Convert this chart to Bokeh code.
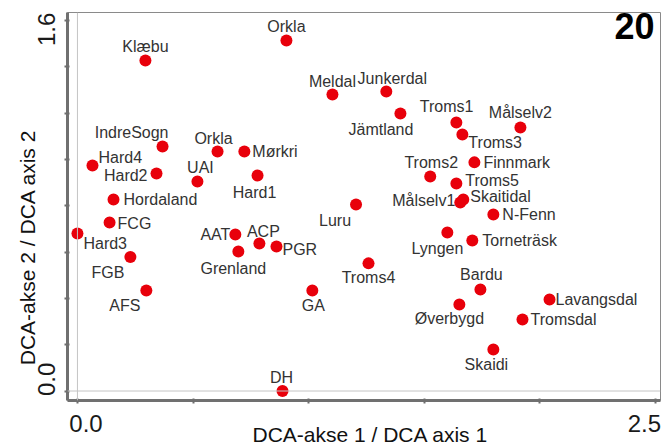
import math
from bokeh.plotting import figure
from bokeh.models import Range1d, FixedTicker, Span, Label, ColumnDataSource, LinearAxis
from bokeh.core.properties import value
from bokeh.embed import file_html
from bokeh.resources import INLINE

# ---------------- data ----------------
sites = ["Orkla", "Klæbu", "Meldal", "Junkerdal", "Jämtland", "Troms1", "Troms3",
         "Målselv2", "Finnmark", "Troms2", "Troms5", "Skaitidal", "Målselv1", "Luru",
         "N-Fenn", "Lyngen", "Torneträsk", "Troms4", "Bardu", "Lavangsdal", "Øverbygd",
         "Tromsdal", "Skaidi", "IndreSogn", "Orkla", "Mørkri", "Hard4", "Hard2", "UAI",
         "Hard1", "Hordaland", "FCG", "Hard3", "AAT", "ACP", "PGR", "Grenland", "FGB",
         "AFS", "GA", "DH"]
dca_axis1 = [0.904, 0.294, 1.103, 1.336, 1.397, 1.639, 1.665,
             1.916, 1.717, 1.526, 1.639, 1.669, 1.656, 1.205,
             1.799, 1.600, 1.708, 1.259, 1.743, 2.042, 1.652,
             1.925, 1.799, 0.368, 0.606, 0.722, 0.065, 0.342, 0.519,
             0.779, 0.156, 0.139, 0.000, 0.683, 0.787, 0.861, 0.696, 0.229,
             0.298, 1.016, 0.887]
dca_axis2 = [1.513, 1.427, 1.280, 1.293, 1.198, 1.159, 1.107,
             1.138, 0.987, 0.926, 0.896, 0.827, 0.814, 0.805,
             0.762, 0.684, 0.650, 0.551, 0.438, 0.395, 0.373,
             0.309, 0.179, 1.056, 1.034, 1.034, 0.974, 0.939, 0.904,
             0.930, 0.827, 0.727, 0.680, 0.676, 0.637, 0.624, 0.602, 0.578,
             0.434, 0.434, 0.0]

x_tick_values = [0.0, 2.5]
x_tick_labels = ["0.0", "2.5"]
y_tick_values = [0.0, 1.6]
y_tick_labels = ["0.0", "1.6"]
x_minor_ticks = [0.0, 0.5, 1.0, 1.5, 2.0, 2.5]
y_minor_ticks = [0.0, 0.2, 0.4, 0.6, 0.8, 1.0, 1.2, 1.4, 1.6]
x_title = "DCA-akse 1 / DCA axis 1"
y_title = "DCA-akse 2 / DCA axis 2"
panel_number = "20"

# ---------------- label placement (style, pixels) ----------------
label_align = ["center", "center", "center", "center", "right", "right", "left",
               "center", "left", "center", "left", "left", "right", "right",
               "left", "right", "left", "center", "center", "left", "center",
               "left", "center", "right", "center", "left", "left", "right", "center",
               "center", "left", "left", "left", "right", "center", "left", "center", "right",
               "right", "center", "center"]
label_dx = [0, 0, 0, 6, 13, 17, 6,
            0, 9, 1, 9, 7, -5, -5,
            9, 16, 10, 0, 1, 6, -10,
            8, -7, 6, -4, 8, 6, -9, 3,
            -3, 10, 8, 6, -5, 4, 6, -5, -6,
            -6, 1, -1]
label_dy = [-14, -14, -13, -13, 16, -16, 8,
            -15, 0, -14, -3, -3, -2, 16,
            0, 16, 0, 14, -15, 0, 14,
            0, 15, -14, -13, 0, -8, 2, -14,
            17, 0, 1, 10, 0, -12, 3, 17, 15,
            15, 15, -14]

x_label_nudge = [0.037, -0.048]
y_label_nudge = [0.05, -0.039]
x_title_at = 1.267   # where the axis titles sit along their axes
y_title_at = 0.62

FONT = "Liberation Sans"

p = figure(width=663, height=448, output_backend="svg", toolbar_location=None,
           x_range=Range1d(-0.043, 2.522), y_range=Range1d(-0.041, 1.634),
           min_border_left=67, min_border_right=3, min_border_top=12, min_border_bottom=48)
p.background_fill_color = "white"
p.border_fill_color = "white"
p.grid.visible = False
p.outline_line_color = "#8a8a8a"
p.outline_line_width = 1

x_label_pos = [round(v + n, 4) for v, n in zip(x_tick_values, x_label_nudge)]
y_label_pos = [round(v + n, 4) for v, n in zip(y_tick_values, y_label_nudge)]

for ax, pos, labs, minors in ((p.xaxis[0], x_label_pos, x_tick_labels, x_minor_ticks),
                              (p.yaxis[0], y_label_pos, y_tick_labels, y_minor_ticks)):
    ax.ticker = FixedTicker(ticks=pos, minor_ticks=minors)
    ax.major_label_overrides = {v: s for v, s in zip(pos, labs)}
    ax.major_tick_line_color = None
    ax.major_tick_in = 0
    ax.major_tick_out = 3
    ax.minor_tick_line_color = "#6e6e6e"
    ax.minor_tick_line_width = 2
    ax.minor_tick_in = 2
    ax.minor_tick_out = 3
    ax.axis_line_color = "#707070"
    ax.axis_line_width = 3
    ax.major_label_text_font = FONT
    ax.major_label_text_font_size = "24px"
    ax.major_label_text_color = "#1a1a1a"

p.xaxis[0].major_label_standoff = 11
p.yaxis[0].major_label_standoff = 9
p.yaxis[0].major_label_orientation = "vertical"

# axis titles, placed as outer label-only axes
def title_axis(pos, text, standoff):
    a = LinearAxis(ticker=FixedTicker(ticks=[pos], minor_ticks=[]),
                   major_label_overrides={pos: text})
    a.axis_line_color = None
    a.major_tick_line_color = None
    a.minor_tick_line_color = None
    a.major_tick_in = 0
    a.major_tick_out = 0
    a.minor_tick_in = 0
    a.minor_tick_out = 0
    a.major_label_standoff = standoff
    a.major_label_text_font = FONT
    a.major_label_text_font_size = "21px"
    a.major_label_text_color = "#111111"
    return a

xt = title_axis(x_title_at, x_title, -12)
p.add_layout(xt, "below")
yt = title_axis(y_title_at, y_title, -4)
yt.major_label_orientation = "vertical"
p.add_layout(yt, "left")

p.add_layout(Span(location=0, dimension="height", line_color="#c4c4c4", line_width=1))
p.add_layout(Span(location=0, dimension="width", line_color="#c4c4c4", line_width=1))

src = ColumnDataSource(dict(x=dca_axis1, y=dca_axis2, name=sites, align=label_align,
                            dx=label_dx, dy=label_dy))
p.text(x="x", y="y", text="name", source=src, x_offset="dx", y_offset="dy",
       text_align="align", text_baseline="middle", text_font=value(FONT),
       text_font_size="16px", text_color="#333333")
p.scatter(x="x", y="y", source=src, size=12, fill_color="#e8000b", line_color=None)

p.add_layout(Label(x=2.522, y=1.634, x_offset=-6, y_offset=0, text=panel_number,
                   text_align="right", text_baseline="top", text_font=FONT,
                   text_font_size="36px", text_font_style="bold", text_color="#000000"))

open("out.html", "w").write(file_html(p, INLINE))
